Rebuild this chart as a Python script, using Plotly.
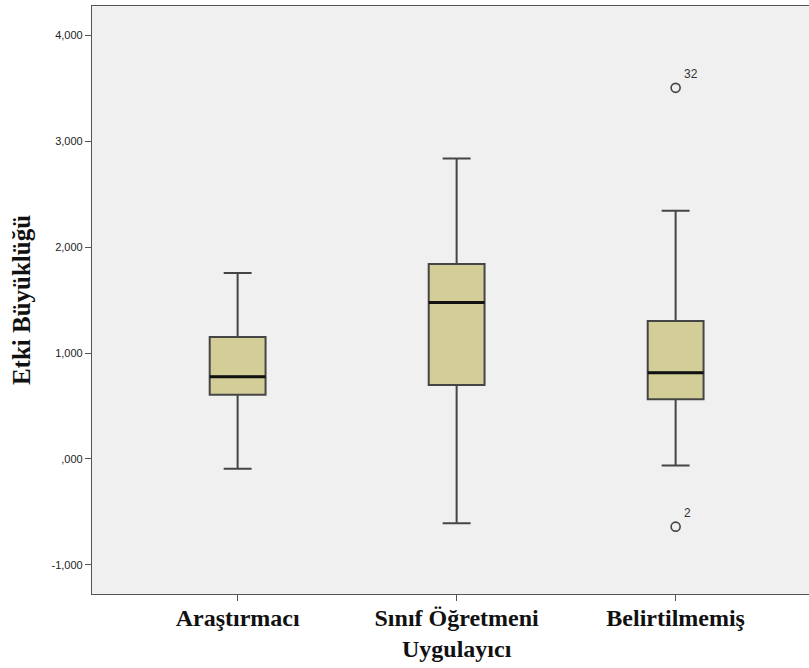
import plotly.graph_objects as go

# Group labels and box-plot statistics (effect size)
groups = ["Araştırmacı", "Sınıf Öğretmeni<br>Uygulayıcı", "Belirtilmemiş"]
lower_whisker = [-0.092, -0.608, -0.063]
q1 = [0.605, 0.697, 0.564]
median = [0.775, 1.478, 0.813]
q3 = [1.150, 1.840, 1.302]
upper_whisker = [1.755, 2.836, 2.344]

# Outliers: group index, value, case label
outlier_group = [2, 2]
outlier_value = [3.504, -0.640]
outlier_label = ["32", "2"]

y_ticks = [-1, 0, 1, 2, 3, 4]
y_ticktext = ["-1,000", ",000", "1,000", "2,000", "3,000", "4,000"]

box_width = 0.255
fill = "#d3ce98"
edge = "#454545"
serif = "Times New Roman, Liberation Serif, serif"

fig = go.Figure()
positions = list(range(len(groups)))

fig.add_trace(go.Box(
    x=positions,
    q1=q1, median=median, q3=q3,
    lowerfence=lower_whisker, upperfence=upper_whisker,
    width=box_width, whiskerwidth=0.5,
    fillcolor=fill,
    line=dict(color=edge, width=2),
    boxpoints=False, hoverinfo="skip", showlegend=False,
))

# Heavier median bars
for i, m in enumerate(median):
    fig.add_trace(go.Scatter(
        x=[i - box_width / 2, i + box_width / 2], y=[m, m],
        mode="lines", line=dict(color="#111111", width=3),
        hoverinfo="skip", showlegend=False,
    ))

# Outlier circles
fig.add_trace(go.Scatter(
    x=outlier_group, y=outlier_value, mode="markers",
    marker=dict(symbol="circle-open", size=9, color="#444444",
                line=dict(width=1.6, color="#444444")),
    hoverinfo="skip", showlegend=False,
))
for g, v, lab in zip(outlier_group, outlier_value, outlier_label):
    fig.add_annotation(
        x=g, y=v, text=lab, showarrow=False,
        xanchor="left", yanchor="middle", xshift=6, yshift=14,
        font=dict(family="Arial, Liberation Sans", size=12, color="#333333"),
    )

fig.update_layout(
    width=809, height=668,
    margin=dict(l=92, r=0, t=6, b=74),
    paper_bgcolor="white",
    plot_bgcolor="#f0f0f0",
    showlegend=False,
)

fig.update_xaxes(
    range=[-0.665, 2.609],
    tickvals=positions,
    ticktext=["<b>" + g + "</b>" for g in groups],
    tickfont=dict(family=serif, size=24, color="#111111"),
    ticks="outside", ticklen=6, tickcolor="#555555", tickwidth=1,
    ticklabelstandoff=-4,
    showgrid=False, zeroline=False,
    showline=True, linecolor="#555555", linewidth=1.2, mirror=True,
)
fig.update_yaxes(
    range=[-1.276, 4.277],
    tickvals=y_ticks, ticktext=y_ticktext,
    tickfont=dict(family="Arial, Liberation Sans", size=11, color="#222222"),
    ticks="outside", ticklen=6, tickcolor="#555555", tickwidth=1,
    showgrid=False, zeroline=False,
    showline=True, linecolor="#555555", linewidth=1.2, mirror=False,
    title=dict(text="<b>Etki Büyüklüğü</b>",
               font=dict(family=serif, size=25, color="#111111"),
               standoff=13),
)

fig.write_html("out.html")
